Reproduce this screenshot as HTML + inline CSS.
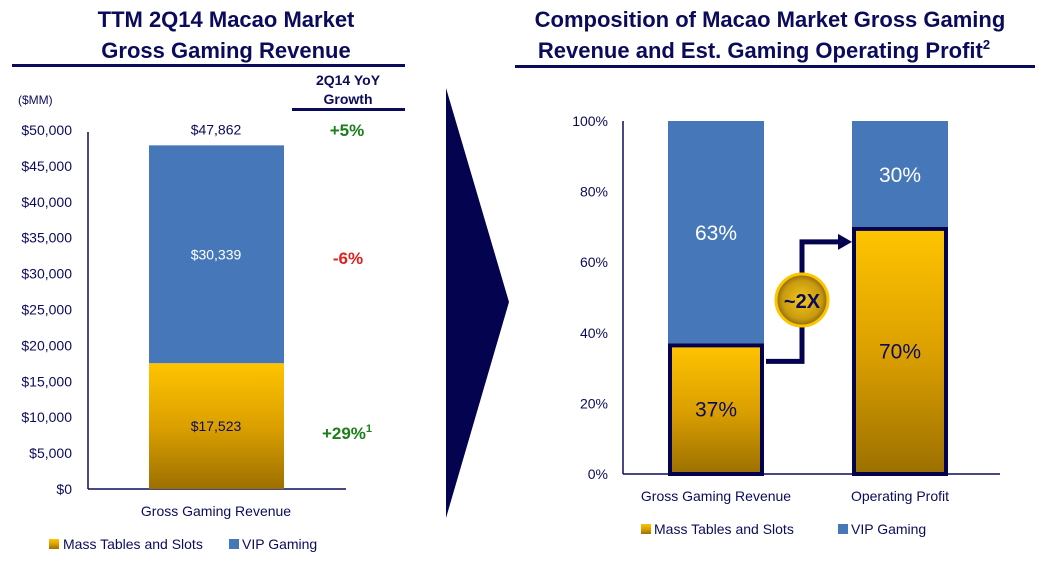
<!DOCTYPE html>
<html><head><meta charset="utf-8"><style>
body{margin:0;background:#fff}
svg{display:block;font-family:"Liberation Sans",sans-serif}
</style></head><body>
<svg id="s" width="1045" height="562" viewBox="0 0 1045 562">
<defs>
<linearGradient id="gold" x1="0" y1="0" x2="0" y2="1"><stop offset="0" stop-color="#ffc400"/><stop offset="0.5" stop-color="#dca000"/><stop offset="1" stop-color="#9c7000"/></linearGradient>
<radialGradient id="coin" cx="0.5" cy="0.5" r="0.5"><stop offset="0" stop-color="#f2c81a"/><stop offset="0.75" stop-color="#c89a10"/><stop offset="1" stop-color="#8a6608"/></radialGradient>
</defs>
<g fill="#0b0b5c" font-weight="bold" font-size="22" text-anchor="middle">
<text x="226" y="27">TTM 2Q14 Macao Market</text>
<text x="226" y="58">Gross Gaming Revenue</text>
<text x="770" y="27">Composition of Macao Market Gross Gaming</text>
<text x="764" y="58">Revenue and Est. Gaming Operating Profit<tspan font-size="13" dy="-9">2</tspan></text>
</g>
<rect x="12" y="64" width="393" height="3" fill="#0b0b5c"/>
<rect x="515" y="65" width="520" height="3" fill="#0b0b5c"/>
<text x="18" y="104" font-size="12" fill="#0b0b5c">($MM)</text>
<g fill="#0b0b5c" font-weight="bold" font-size="14" text-anchor="middle">
<text x="348" y="85">2Q14 YoY</text><text x="348" y="104">Growth</text></g>
<rect x="292" y="108" width="113" height="3" fill="#0b0b5c"/>
<g font-weight="bold" font-size="17" text-anchor="middle">
<text x="347" y="136" fill="#1a7f1a">+5%</text>
<text x="348" y="264" fill="#e02020">-6%</text>
<text x="347" y="439" fill="#1a7f1a">+29%<tspan font-size="11" dy="-7">1</tspan></text>
</g>
<polygon points="446,88 509,302 446,518" fill="#03034f"/>
<g id="left"></g><g id="right"></g>
<g font-size="14" fill="#0b0b5c">
<rect x="49" y="539" width="10" height="10" fill="url(#gold)"/><text x="63" y="549">Mass Tables and Slots</text>
<rect x="229" y="539" width="10" height="10" fill="#4677b8"/><text x="242" y="549">VIP Gaming</text></g>
<g font-size="14" fill="#0b0b5c">
<rect x="641" y="524" width="10" height="10" fill="url(#gold)"/><text x="654" y="534">Mass Tables and Slots</text>
<rect x="838" y="524" width="10" height="10" fill="#4677b8"/><text x="851" y="534">VIP Gaming</text></g>
</svg>
<script>
const leftTicks=[0,5000,10000,15000,20000,25000,30000,35000,40000,45000,50000];
const leftCategory=["Gross Gaming Revenue"];
const leftMass=[17523];
const leftVip=[30339];
const rightTicks=[0,20,40,60,80,100];
const rightCategories=["Gross Gaming Revenue","Operating Profit"];
const rightMass=[37,70];
const rightVip=[63,30];
const NS="http://www.w3.org/2000/svg";
function mk(p,t,a,txt){const e=document.createElementNS(NS,t);for(const k in a)e.setAttribute(k,a[k]);if(txt!==undefined)e.textContent=txt;p.appendChild(e);return e;}
const fmt=v=>"$"+v.toLocaleString("en-US");
// left chart
const L=document.getElementById("left");
const ly=v=>489-v*(359/50000);
leftTicks.forEach(t=>{const e=mk(L,"text",{x:72,y:ly(t)+5,"text-anchor":"end","font-size":14,fill:"#0b0b5c"},fmt(t));

});
const ax=mk(L,"line",{x1:88,y1:132,x2:88,y2:489,stroke:"#0b0b5c","stroke-width":1.5});


const bl=mk(L,"line",{x1:88,y1:489,x2:346,y2:489,stroke:"#0b0b5c","stroke-width":1.5});


leftCategory.forEach((c,i)=>{
const m=leftMass[i],v=leftVip[i];
const r1=mk(L,"rect",{x:149,y:ly(m),width:135,height:ly(0)-ly(m),fill:"url(#gold)"});


const r2=mk(L,"rect",{x:149,y:ly(m+v),width:135,height:ly(m)-ly(m+v),fill:"#4677b8"});


const t1=mk(L,"text",{x:216,y:(ly(0)+ly(m))/2+5,"text-anchor":"middle","font-size":14,fill:"#0b0b5c"},fmt(m));


const t2=mk(L,"text",{x:216,y:(ly(m)+ly(m+v))/2+5,"text-anchor":"middle","font-size":14,fill:"#fff"},fmt(v));


const t3=mk(L,"text",{x:216,y:ly(m+v)-11,"text-anchor":"middle","font-size":14,fill:"#0b0b5c"},fmt(m+v));


const t4=mk(L,"text",{x:216,y:516,"text-anchor":"middle","font-size":14,fill:"#0b0b5c"},c);


});
// right chart
const R=document.getElementById("right");
const ry=v=>474-v*3.53;
rightTicks.forEach(t=>{const e=mk(R,"text",{x:608,y:ry(t)+5,"text-anchor":"end","font-size":14,fill:"#0b0b5c"},t+"%");

});
const ax2=mk(R,"line",{x1:623,y1:121,x2:623,y2:474,stroke:"#0b0b5c","stroke-width":1.5});


const bl2=mk(R,"line",{x1:623,y1:474,x2:1000,y2:474,stroke:"#0b0b5c","stroke-width":1.5});


const bx=[668,852],bw=96;
rightCategories.forEach((c,i)=>{
const m=rightMass[i],v=rightVip[i];
const r2=mk(R,"rect",{x:bx[i],y:ry(m+v),width:bw,height:ry(m)-ry(m+v),fill:"#4677b8"});


const r1=mk(R,"rect",{x:bx[i]+2,y:ry(m)+2,width:bw-4,height:ry(0)-ry(m)-2,fill:"url(#gold)",stroke:"#03034f","stroke-width":4});


const t1=mk(R,"text",{x:bx[i]+bw/2,y:(ry(0)+ry(m))/2+8,"text-anchor":"middle","font-size":21,fill:"#0b0b5c"},m+"%");


const t2=mk(R,"text",{x:bx[i]+bw/2,y:(ry(m)+ry(m+v))/2+8,"text-anchor":"middle","font-size":21,fill:"#fff"},v+"%");


const t3=mk(R,"text",{x:bx[i]+bw/2,y:501,"text-anchor":"middle","font-size":14,fill:"#0b0b5c"},c);


});
// connector
const yA=ry(rightMass[0])+18,yB=ry(rightMass[1])+15;
const cn=mk(R,"polyline",{points:`766,${yA} 802,${yA} 802,${yB} 840,${yB}`,fill:"none",stroke:"#03034f","stroke-width":5});


const ah=mk(R,"polygon",{points:`838,${yB-8} 852,${yB} 838,${yB+8}`,fill:"#03034f"});


const cc=mk(R,"circle",{cx:802,cy:300,r:26,fill:"url(#coin)",stroke:"#ffc400","stroke-width":3});


const ct=mk(R,"text",{x:802,y:308,"text-anchor":"middle","font-size":20,"font-weight":"bold",fill:"#0b0b5c"},"~2X");


</script>
</body></html>
